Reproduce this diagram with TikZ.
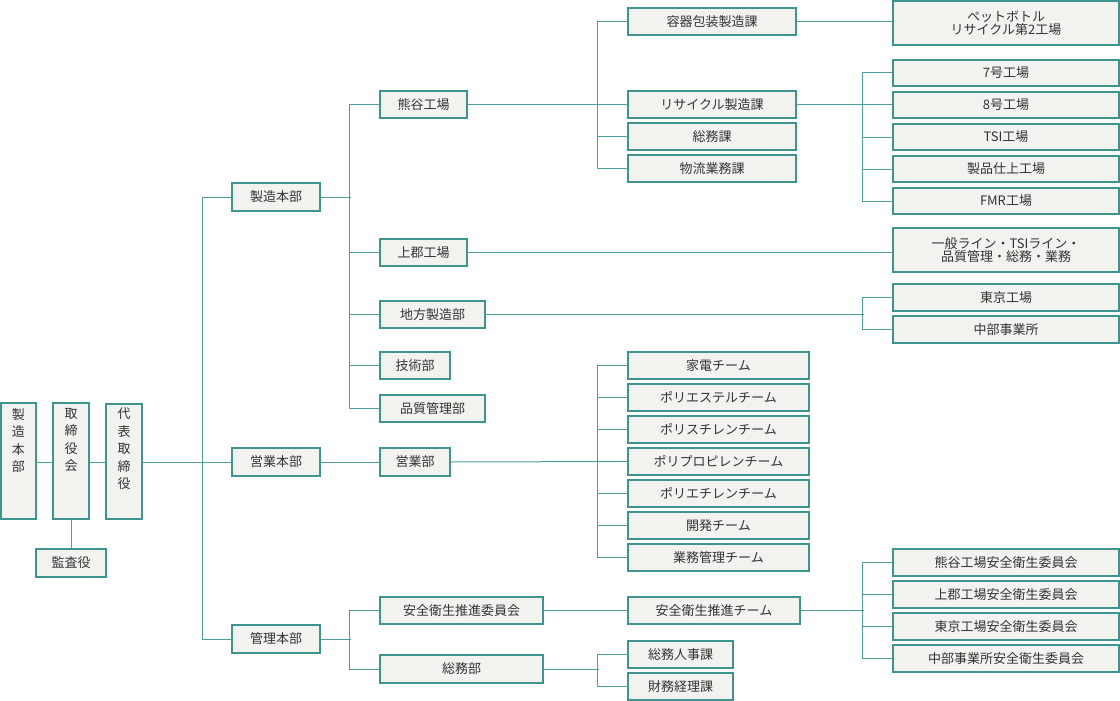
\documentclass[tikz,border=0pt]{standalone}
\usepackage{fontspec}
\setmainfont{Noto Sans CJK JP}
\definecolor{bd}{HTML}{3E958E}
\definecolor{ln}{HTML}{4E9F99}
\definecolor{fl}{HTML}{F2F2EE}
\definecolor{tx}{HTML}{333333}
\tikzset{box/.style={draw=bd,line width=1.3pt,fill=fl,text=tx,inner sep=0pt,font=\fontsize{13}{15}\selectfont,align=center},
 con/.style={draw=ln,line width=1pt}}
\newcommand\bx[6]{\node[box,minimum width={(#4-#2)*1pt},minimum height={(#5-#3)*1pt}] (#1) at ({(#2+#4)/2},{(#3+#5)/2}) {#6};}
\begin{document}
\begin{tikzpicture}[x=1pt,y=-1pt]
\useasboundingbox (0,0) rectangle (1120,701);
% vertical boxes
\bx{v1}{1}{403}{36}{519}{}
\bx{v2}{53}{403}{89}{519}{}
\bx{v3}{106}{404}{142}{519}{}
\node[text=tx,font=\fontsize{13}{17.5}\selectfont,align=center,anchor=north,inner sep=0pt] (t1) at (18.5,408) {製\\造\\本\\部};
\node[text=tx,font=\fontsize{13}{17.5}\selectfont,align=center,anchor=north,inner sep=0pt] (t2) at (71,408) {取\\締\\役\\会};
\node[text=tx,font=\fontsize{13}{17.5}\selectfont,align=center,anchor=north,inner sep=0pt] (t3) at (124,408) {代\\表\\取\\締\\役};
\bx{kansa}{36}{549}{106}{577}{監査役}
% level 2
\bx{sz}{232}{183}{320}{211}{製造本部}
\bx{eg}{232}{448}{320}{476}{営業本部}
\bx{kr}{232}{625}{320}{653}{管理本部}
% level 3
\bx{kum}{380}{91}{467}{118}{熊谷工場}
\bx{kam}{380}{239}{467}{266}{上郡工場}
\bx{chi}{380}{301}{485}{328}{地方製造部}
\bx{gij}{380}{352}{450}{379}{技術部}
\bx{hin}{380}{395}{485}{422}{品質管理部}
\bx{egb}{380}{448}{450}{476}{営業部}
\bx{anz}{380}{597}{543}{624}{安全衛生推進委員会}
\bx{som}{380}{655}{543}{683}{総務部}
% level 4
\bx{yoki}{628}{8}{796}{35}{容器包装製造課}
\bx{rsk}{628}{91}{796}{118}{リサイクル製造課}
\bx{smk}{628}{123}{796}{150}{総務課}
\bx{btr}{628}{155}{796}{182}{物流業務課}
\bx{e1}{628}{352}{809}{379}{家電チーム}
\bx{e2}{628}{384}{809}{411}{ポリエステルチーム}
\bx{e3}{628}{416}{809}{443}{ポリスチレンチーム}
\bx{e4}{628}{448}{809}{475}{ポリプロピレンチーム}
\bx{e5}{628}{480}{809}{507}{ポリエチレンチーム}
\bx{e6}{628}{512}{809}{539}{開発チーム}
\bx{e7}{628}{544}{809}{571}{業務管理チーム}
\bx{ant}{628}{597}{800}{624}{安全衛生推進チーム}
\bx{jin}{628}{641}{733}{668}{総務人事課}
\bx{zai}{628}{673}{733}{700}{財務経理課}
% level 5
\bx{pet}{893}{1}{1119}{45}{ペットボトル\\[-2pt]リサイクル第2工場}
\bx{f7}{893}{60}{1119}{86}{7号工場}
\bx{f8}{893}{92}{1119}{118}{8号工場}
\bx{tsi}{893}{124}{1119}{150}{TSI工場}
\bx{shi}{893}{156}{1119}{182}{製品仕上工場}
\bx{fmr}{893}{188}{1119}{214}{FMR工場}
\bx{ipp}{893}{228}{1119}{272}{一般ライン・TSIライン・\\[-2pt]品質管理・総務・業務}
\bx{tok}{893}{284}{1119}{311}{東京工場}
\bx{chu}{893}{316}{1119}{343}{中部事業所}
\bx{a1}{893}{549}{1119}{576}{熊谷工場安全衛生委員会}
\bx{a2}{893}{581}{1119}{608}{上郡工場安全衛生委員会}
\bx{a3}{893}{613}{1119}{640}{東京工場安全衛生委員会}
\bx{a4}{893}{645}{1119}{672}{中部事業所安全衛生委員会}
% connectors
\begin{scope}[on background layer/.try]
\end{scope}
\draw[con] (v1.east|-0,462) -- (v2.west|-0,462);
\draw[con] (v2.east|-0,462) -- (v3.west|-0,462);
\draw[con] (v2.south) -- (kansa.north);
\draw[con] (v3.east|-0,462) -- (eg.west);
\draw[con] (sz.west) -- ++(-29,0) |- (kr.west);
\draw[con] (sz.east) -- ++(30,0);
\draw[con] (kum.west) -- ++(-30,0) |- (hin.west);
\draw[con] (kam.west) -- ++(-30,0);
\draw[con] (chi.west) -- ++(-30,0);
\draw[con] (gij.west) -- ++(-30,0);
\draw[con] (eg.east) -- (egb.west);
\draw[con] (kr.east) -- ++(30,0);
\draw[con] (anz.west) -- ++(-30,0) |- (som.west);
\draw[con] (anz.east) -- (ant.west);
% kumagaya
\draw[con] (kum.east) -- (rsk.west);
\draw[con] (yoki.west) -- ++(-30,0) |- (btr.west);
\draw[con] (smk.west) -- ++(-30,0);
\draw[con] (yoki.east) -- (pet.west|-yoki.east);
\draw[con] (rsk.east) -- ++(67,0);
\draw[con] (f7.west) -- ++(-30,0) |- (fmr.west);
\draw[con] (f8.west) -- ++(-30,0);
\draw[con] (tsi.west) -- ++(-30,0);
\draw[con] (shi.west) -- ++(-30,0);
\draw[con] (kam.east) -- (ipp.west|-kam.east);
\draw[con] (chi.east) -- ++(378,0);
\draw[con] (tok.west) -- ++(-30,0) |- (chu.west);
% eigyo
\draw[con] (egb.east) -- (e4.west);
\draw[con] (e1.west) -- ++(-30,0) |- (e7.west);
\foreach \i in {2,3,5,6} \draw[con] (e\i.west) -- ++(-30,0);
% anzen
\draw[con] (ant.east) -- ++(63,0);
\draw[con] (a1.west) -- ++(-30,0) |- (a4.west);
\draw[con] (a2.west) -- ++(-30,0);
\draw[con] (a3.west) -- ++(-30,0);
% somu
\draw[con] (som.east) -- ++(55,0);
\draw[con] (jin.west) -- ++(-30,0) |- (zai.west);
\end{tikzpicture}
\end{document}
